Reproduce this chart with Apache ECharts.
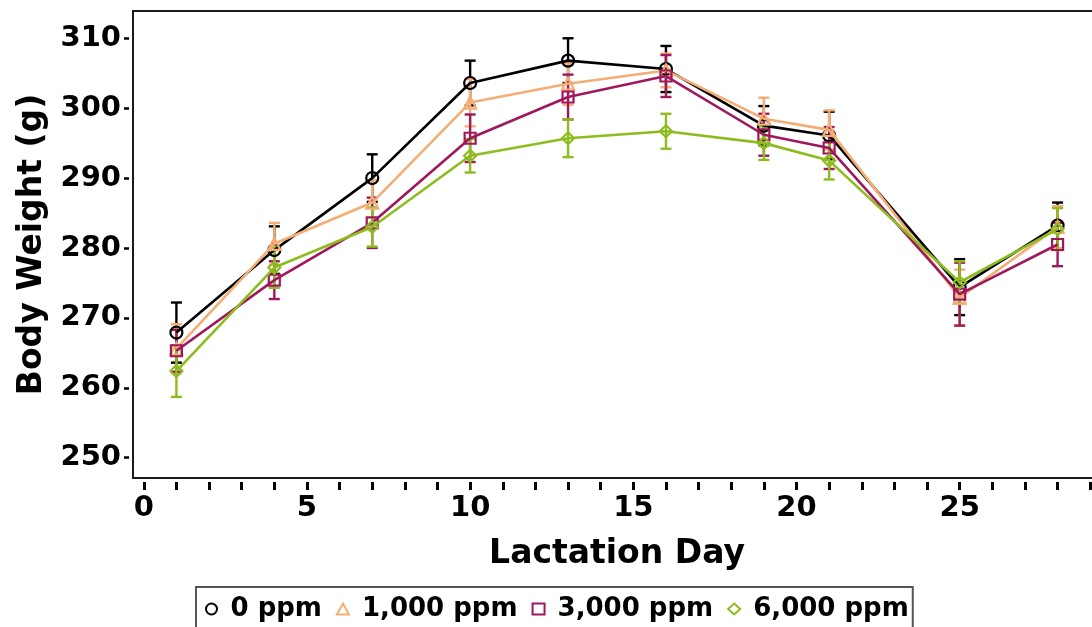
<!DOCTYPE html>
<html>
<head>
<meta charset="utf-8">
<script src="https://cdn.jsdelivr.net/npm/echarts@6/dist/echarts.min.js"></script>
<style>
html,body{margin:0;padding:0;background:#fff;}
#main{width:1092px;height:627px;}
</style>
</head>
<body>
<div id="main"></div>
<script>
// 数据
var days = [1, 4, 7, 10, 13, 16, 19, 21, 25, 28];
var names = ['0 ppm', '1,000 ppm', '3,000 ppm', '6,000 ppm'];
var mean0    = [267.9, 279.7, 290.0, 303.6, 306.8, 305.6, 297.5, 296.1, 274.4, 283.2];
var se0      = [4.3, 3.4, 3.4, 3.2, 3.2, 3.3, 2.8, 3.4, 4.0, 3.3];
var mean1000 = [265.6, 280.6, 286.5, 300.8, 303.5, 305.4, 298.5, 296.9, 272.9, 283.0];
var se1000   = [3.5, 3.0, 3.2, 3.4, 3.0, 2.4, 3.0, 2.8, 4.0, 3.0];
var mean3000 = [265.3, 275.4, 283.6, 295.7, 301.6, 304.6, 296.2, 294.3, 273.4, 280.5];
var se3000   = [3.0, 2.7, 3.6, 3.4, 3.2, 3.0, 3.0, 3.0, 4.5, 3.1];
var mean6000 = [262.4, 277.2, 283.0, 293.2, 295.7, 296.7, 295.0, 292.5, 275.1, 282.7];
var se6000   = [3.7, 2.9, 2.8, 2.4, 2.7, 2.5, 2.4, 2.7, 3.0, 3.0];
var xTicks = [0,1,2,3,4,5,6,7,8,9,10,11,12,13,14,15,16,17,18,19,20,21,22,23,24,25,26,27,28,29];
var xLabels = [0, 5, 10, 15, 20, 25];
var yTicks = [250, 260, 270, 280, 290, 300, 310];

var colors = ['#000000', '#f5ad76', '#a0185c', '#8cbc1e'];
var symbols = ['circle', 'triangle', 'rect', 'diamond'];
var means = [mean0, mean1000, mean3000, mean6000];
var ses = [se0, se1000, se3000, se6000];
var FONT = 'DejaVu Sans';

var myChart = echarts.init(document.getElementById('main'), null, {renderer: 'canvas'});

var series = [];
for (var i = 0; i < names.length; i++) {
	var pts = [];
	for (var k = 0; k < days.length; k++) {
		pts.push([days[k], means[i][k]]);
	}
	series.push({
		name: names[i],
		type: 'line',
		data: pts,
		symbol: symbols[i],
		symbolSize: symbols[i] == 'rect' ? 11 : 12,
		z: 3 + i,
		lineStyle: {color: colors[i], width: 2.6},
		itemStyle: {color: 'rgba(255,255,255,0)', borderColor: colors[i], borderWidth: 2.2},
		emphasis: {disabled: true},
		animation: false
	});
}
// 误差线
for (var i = 0; i < names.length; i++) {
	var bars = [];
	for (var k = 0; k < days.length; k++) {
		bars.push([days[k], means[i][k] - ses[i][k], means[i][k] + ses[i][k]]);
	}
	series.push({
		name: names[i],
		type: 'custom',
		data: bars,
		z: 2,
		encode: {x: 0, y: [1, 2]},
		renderItem: (function(c){
			return function(params, api){
				var x = api.value(0);
				var lo = api.coord([x, api.value(1)]);
				var hi = api.coord([x, api.value(2)]);
				var w = 5.5;
				var st = {stroke: c, lineWidth: 2.4};
				return {
					type: 'group',
					children: [
						{type: 'line', shape: {x1: lo[0], y1: lo[1], x2: hi[0], y2: hi[1]}, style: st},
						{type: 'line', shape: {x1: lo[0]-w, y1: lo[1], x2: lo[0]+w, y2: lo[1]}, style: st},
						{type: 'line', shape: {x1: hi[0]-w, y1: hi[1], x2: hi[0]+w, y2: hi[1]}, style: st}
					]
				};
			};
		})(colors[i]),
		animation: false
	});
}

var legendData = [];
for (var i = 0; i < names.length; i++) {
	legendData.push({
		name: names[i],
		icon: symbols[i],
		itemStyle: {color: 'rgba(255,255,255,0)', borderColor: colors[i], borderWidth: 2}
	});
}

var option = {
	backgroundColor: '#fff',
	animation: false,
	grid: {
		left: 133, top: 11, width: 968, height: 467,
		show: true,
		borderColor: '#1a1a1a',
		borderWidth: 2,
		containLabel: false,
		outerBoundsMode: 'none'
	},
	legend: {
		data: legendData,
		left: 196, top: 587,
		orient: 'horizontal',
		itemWidth: 12, itemHeight: 11,
		itemGap: 14,
		padding: [9, 4, 14, 9],
		borderColor: '#555',
		borderWidth: 2,
		textStyle: {fontFamily: FONT, fontWeight: 'bold', fontSize: 26, color: '#000', padding: [0, 0, 0, 8]}
	},
	xAxis: {
		type: 'value',
		min: -0.33, max: 29.33,
		offset: 4,
		name: 'Lactation Day',
		nameLocation: 'middle',
		nameGap: 56,
		nameTextStyle: {fontFamily: FONT, fontWeight: 'bold', fontSize: 33, color: '#000'},
		axisLine: {show: false, onZero: false},
		splitLine: {show: false},
		axisTick: {show: true, length: 8, customValues: xTicks, lineStyle: {color: '#000', width: 3}},
		axisLabel: {customValues: xLabels, margin: 12, fontFamily: FONT, fontWeight: 'bold', fontSize: 29, color: '#000'}
	},
	yAxis: {
		type: 'value',
		min: 247.1, max: 313.9,
		offset: 4,
		name: 'Body Weight (g)',
		nameLocation: 'middle',
		nameRotate: 90,
		nameGap: 80,
		nameTextStyle: {fontFamily: FONT, fontWeight: 'bold', fontSize: 33, color: '#000'},
		axisLine: {show: false, onZero: false},
		splitLine: {show: false},
		axisTick: {show: true, length: 5, customValues: yTicks, lineStyle: {color: '#000', width: 2.5}},
		axisLabel: {customValues: yTicks, margin: 8, fontFamily: FONT, fontWeight: 'bold', fontSize: 29, color: '#000'}
	},
	series: series
};
myChart.setOption(option);
</script>
</body>
</html>
